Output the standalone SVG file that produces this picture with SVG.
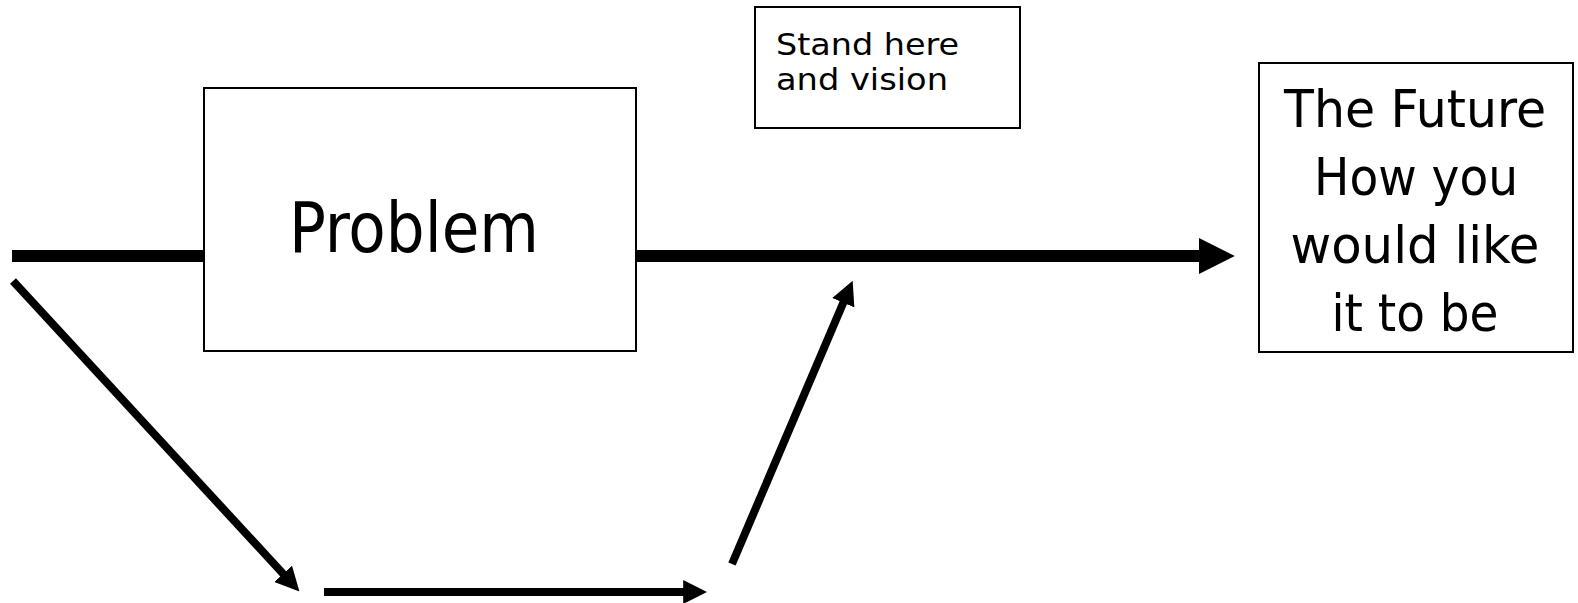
<svg xmlns="http://www.w3.org/2000/svg" width="1578" height="603" viewBox="0 0 1578 603">
  <style>
    .box { fill: #ffffff; stroke: #000000; stroke-width: 2; }
    .txt { font-family: "DejaVu Sans Condensed", "DejaVu Sans", "Liberation Sans", sans-serif; fill: #000000; }
    .conn { stroke: #000000; fill: none; stroke-linecap: butt; }
  </style>
  <defs>
    <marker id="ah" viewBox="0 0 3 3" refX="0.1" refY="1.5" markerWidth="3" markerHeight="3" markerUnits="strokeWidth" orient="auto">
      <path d="M0,0 L3,1.5 L0,3 Z" fill="#000000"/>
    </marker>
  </defs>
  <rect width="1578" height="603" fill="#ffffff"/>

  <g id="connectors">
    <line class="conn" x1="12" y1="256" x2="204" y2="256" stroke-width="12"/>
    <line class="conn" x1="637" y1="256" x2="1200" y2="256" stroke-width="12" marker-end="url(#ah)"/>
    <line class="conn" x1="13" y1="281" x2="283.7" y2="574.4" stroke-width="8" marker-end="url(#ah)"/>
    <line class="conn" x1="324" y1="592" x2="684" y2="592" stroke-width="8" marker-end="url(#ah)"/>
    <line class="conn" x1="732" y1="564" x2="843.6" y2="302" stroke-width="8" marker-end="url(#ah)"/>
  </g>

  <g id="problem">
    <rect class="box" x="204" y="88" width="432" height="263"/>
    <text class="txt" x="414" y="252" font-size="69" text-anchor="middle" textLength="250" lengthAdjust="spacingAndGlyphs">Problem</text>
  </g>

  <g id="stand-here">
    <rect class="box" x="755" y="7" width="265" height="121"/>
    <text class="txt" x="776" y="54.5" font-size="30" textLength="183" lengthAdjust="spacingAndGlyphs">Stand here</text>
    <text class="txt" x="776" y="89.5" font-size="30" textLength="172" lengthAdjust="spacingAndGlyphs">and vision</text>
  </g>

  <g id="future">
    <rect class="box" x="1259" y="63" width="314" height="289"/>
    <text class="txt" x="1415" y="127" font-size="52" text-anchor="middle" textLength="262" lengthAdjust="spacingAndGlyphs">The Future</text>
    <text class="txt" x="1416" y="195" font-size="52" text-anchor="middle" textLength="204" lengthAdjust="spacingAndGlyphs">How you</text>
    <text class="txt" x="1415" y="263" font-size="52" text-anchor="middle" textLength="249" lengthAdjust="spacingAndGlyphs">would like</text>
    <text class="txt" x="1415" y="331" font-size="52" text-anchor="middle" textLength="167" lengthAdjust="spacingAndGlyphs">it to be</text>
  </g>
</svg>
